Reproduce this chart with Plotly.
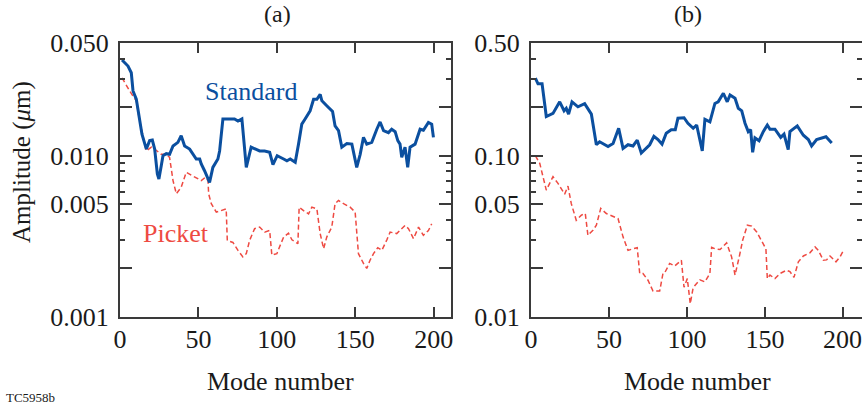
import plotly.graph_objects as go
import math

# ---------------- data ----------------
a_std_x = [1.3, 5.1, 7.2, 8.3, 10.4, 12.5, 14, 16.8, 18.9, 20.6, 22.1, 23.8, 24.8, 26.3, 27.4, 29.5, 31.6,
           33.8, 36.9, 39, 41.2, 44.4, 45.9, 48.6, 50.8, 51.8, 53.9, 57.1, 59.2, 62.4, 63.5, 65.6, 73, 75.2,
           77.7, 80.5, 83.6, 86.8, 89, 92.2, 95.4, 97.5, 100.2, 104.3, 106.4, 108.5, 111.7, 113.8, 115.9,
           118, 121.2, 123.4, 125.5, 127.6, 128.7, 131.8, 135.5, 137.1, 139.3, 141.4, 144.6, 147.8, 150.9,
           153.1, 155.2, 157.3, 160.5, 163.7, 165.8, 168, 171.1, 173.2, 175.4, 177.1, 178.5, 179.6, 181.7,
           183.4, 184.9, 188.1, 191.3, 193.4, 196.6, 198.7, 199.8]
a_std_y = [0.0392, 0.0360, 0.0327, 0.0252, 0.0224, 0.0169, 0.0136, 0.0110, 0.0124, 0.0125, 0.0110, 0.0077,
           0.00718, 0.00867, 0.0100, 0.0103, 0.0102, 0.0115, 0.0121, 0.0133, 0.0115, 0.0110, 0.0105, 0.00954,
           0.00954, 0.00889, 0.00807, 0.00684, 0.00847, 0.00954, 0.0107, 0.0169, 0.0169, 0.0164, 0.0169,
           0.00847, 0.0113, 0.0110, 0.0107, 0.0107, 0.0105, 0.0088, 0.0100, 0.00954, 0.0093, 0.00954, 0.0091,
           0.0118, 0.0157, 0.0169, 0.0190, 0.0224, 0.0224, 0.0240, 0.0219, 0.0204, 0.0188, 0.0153, 0.0143,
           0.0113, 0.0119, 0.0118, 0.00847, 0.0102, 0.0130, 0.0118, 0.0121, 0.0146, 0.0162, 0.0143, 0.0139,
           0.0146, 0.0141, 0.0124, 0.0118, 0.00977, 0.0113, 0.00847, 0.0113, 0.0118, 0.0146, 0.0144, 0.0161,
           0.0157, 0.0130]

a_pick_x = [1.3, 4, 6.2, 8.3, 10.4, 12.5, 14.6, 16.8, 20, 22.1, 26.3, 29.5, 31.6, 33.8, 35.9, 39, 42.2, 44.4,
            48.6, 51.8, 54.3, 56.1, 56.5, 58.2, 61.4, 64.5, 67.7, 68.4, 72, 75.2, 78.3, 80.5, 82.6, 85.8, 89,
            92.2, 95.4, 96.8, 100, 102.1, 104.3, 107.4, 109.6, 113.4, 114.2, 117, 120.2, 122.3, 125.5, 127.6,
            129.8, 131.8, 135, 137.1, 139.3, 142.5, 146.7, 149.9, 151, 152, 155.2, 157.3, 159.4, 161.6, 164.3,
            166.9, 170.1, 172.2, 176.4, 181.7, 183.9, 187.1, 190.3, 193.4, 196.6, 198.7]
a_pick_y = [0.0304, 0.0277, 0.0252, 0.0234, 0.0219, 0.0164, 0.0130, 0.0107, 0.0113, 0.0110, 0.0102, 0.0102,
            0.00977, 0.00701, 0.00581, 0.00637, 0.00789, 0.0077, 0.00734, 0.00701, 0.00734, 0.00701, 0.00581,
            0.00504, 0.00447, 0.00457, 0.00468, 0.00298, 0.0029, 0.00259, 0.00236, 0.00247, 0.00298, 0.00353,
            0.00361, 0.00336, 0.00344, 0.00242, 0.00247, 0.00278, 0.00313, 0.00331, 0.00301, 0.00285, 0.0048,
            0.00457, 0.00436, 0.0048, 0.00468, 0.00329, 0.00265, 0.00313, 0.00361, 0.00504, 0.00528, 0.00504,
            0.0048, 0.00447, 0.00329, 0.00247, 0.00215, 0.0020, 0.00225, 0.00247, 0.00269, 0.00259, 0.00301,
            0.00336, 0.00329, 0.0037, 0.00353, 0.00306, 0.00361, 0.00321, 0.00344, 0.00378]

b_std_x = [2.8, 4.5, 7.1, 9.8, 14.1, 18.4, 21.2, 22.6, 24.1, 26.3, 30.1, 34.4, 38.7, 41.9, 44, 49.4, 52.6,
           56.2, 59, 62.2, 65.4, 68.1, 70.7, 73.9, 76.1, 78.8, 81.4, 84, 86.7, 89.9, 92.5, 94.2, 98.1, 100.6,
           102.8, 104, 106.2, 109.8, 111.5, 114.7, 117.9, 120, 123.3, 125.8, 127.6, 130.8, 132.9, 135.1, 137.2,
           139.3, 140.8, 142.1, 143.6, 146.2, 148.9, 151.5, 153.2, 156.4, 160.1, 162.2, 164.9, 166, 170.7,
           174.6, 177.8, 179.9, 183.1, 186.3, 189.1, 192.8]
b_std_y = [0.303, 0.279, 0.279, 0.175, 0.183, 0.216, 0.19, 0.197, 0.181, 0.216, 0.201, 0.21, 0.181, 0.117,
           0.122, 0.114, 0.119, 0.148, 0.111, 0.117, 0.115, 0.125, 0.104, 0.111, 0.117, 0.132, 0.126, 0.118,
           0.138, 0.145, 0.145, 0.171, 0.172, 0.159, 0.151, 0.148, 0.155, 0.107, 0.168, 0.162, 0.211, 0.216,
           0.244, 0.216, 0.238, 0.227, 0.197, 0.19, 0.159, 0.141, 0.145, 0.105, 0.129, 0.124, 0.141, 0.155,
           0.146, 0.146, 0.13, 0.136, 0.109, 0.141, 0.153, 0.134, 0.126, 0.115, 0.126, 0.128, 0.131, 0.12]

b_pick_x = [2.8, 5.6, 7.7, 9.8, 14.1, 17.3, 21.6, 23.7, 25.8, 29, 32.3, 34.8, 36.5, 39.7, 41.9, 44.7, 48.3,
            52.6, 55.8, 59, 62.2, 65.4, 68.1, 69.7, 71.8, 75, 78.2, 82.5, 84.6, 85.7, 88.9, 92.1, 96.4, 98.1,
            100.2, 102.1, 103.8, 105.1, 108.3, 111.5, 114.7, 115.8, 117.9, 121.2, 125.4, 128.6, 130.8, 133.5,
            135.7, 138.7, 141.5, 144.7, 147.9, 150.6, 151.5, 153.2, 156.4, 159.6, 163.9, 166, 168.6, 171.4,
            174.6, 178.8, 182.1, 184.2, 187.4, 189.5, 191.7, 195.5, 198.1, 200.2]
b_pick_y = [0.1, 0.0897, 0.0741, 0.0612, 0.0741, 0.0674, 0.0578, 0.0648, 0.0506, 0.0398, 0.0428, 0.0438,
            0.0321, 0.0345, 0.0371, 0.0471, 0.0438, 0.0418, 0.0408, 0.0314, 0.0259, 0.0265, 0.0269, 0.0186,
            0.0186, 0.0169, 0.0145, 0.0145, 0.0186, 0.0188, 0.0215, 0.0207, 0.0225, 0.0153, 0.0173, 0.0121,
            0.0149, 0.0157, 0.017, 0.0165, 0.0186, 0.027, 0.0265, 0.0262, 0.0288, 0.0236, 0.0182, 0.0236,
            0.0299, 0.0371, 0.0366, 0.0337, 0.0299, 0.0265, 0.0173, 0.0182, 0.0173, 0.0186, 0.0195, 0.0191,
            0.0176, 0.022, 0.0239, 0.025, 0.0272, 0.0259, 0.0225, 0.0226, 0.0239, 0.022, 0.0236, 0.0257]

x_ticks = [0, 50, 100, 150, 200]
x_labels = ["0", "50", "100", "150", "200"]
a_major = [0.001, 0.002, 0.005, 0.01, 0.02, 0.05]
a_labels = ["0.001", "", "0.005", "0.010", "", "0.050"]
a_minor = [0.003, 0.004, 0.006, 0.007, 0.008, 0.009, 0.03, 0.04]
b_major = [0.01, 0.02, 0.05, 0.1, 0.2, 0.5]
b_labels = ["0.01", "", "0.05", "0.10", "", "0.50"]
b_minor = [0.03, 0.04, 0.06, 0.07, 0.08, 0.09, 0.3, 0.4]

# ---------------- style ----------------
W, H = 862, 406
BLUE = "#0b4f9f"
RED = "#ee4a42"
AX = "#3a3a3a"
TXT = "#1a1a1a"
FONT = "'Liberation Serif', 'Times New Roman', Times, serif"


def px(x):
    return x / W


def py(y):
    return 1 - y / H


fig = go.Figure()
fig.add_trace(go.Scatter(x=a_pick_x, y=a_pick_y, mode="lines", line=dict(color=RED, width=1.5, dash="5px,3px"),
                         xaxis="x", yaxis="y", showlegend=False))
fig.add_trace(go.Scatter(x=a_std_x, y=a_std_y, mode="lines", line=dict(color=BLUE, width=3),
                         xaxis="x", yaxis="y", showlegend=False))
fig.add_trace(go.Scatter(x=b_pick_x, y=b_pick_y, mode="lines", line=dict(color=RED, width=1.5, dash="5px,3px"),
                         xaxis="x2", yaxis="y2", showlegend=False))
fig.add_trace(go.Scatter(x=b_std_x, y=b_std_y, mode="lines", line=dict(color=BLUE, width=3),
                         xaxis="x2", yaxis="y2", showlegend=False))

ydom = [py(317), py(43)]
xcommon = dict(showline=True, linecolor=AX, linewidth=2, mirror="ticks", ticks="inside", ticklen=10,
               tickwidth=2, tickcolor=AX, tickvals=x_ticks, showgrid=False, zeroline=False, automargin=False,
               tickfont=dict(family=FONT, size=26, color=TXT), ticklabelstandoff=-2)
ycommon = dict(type="log", showline=True, linecolor=AX, linewidth=2, mirror="ticks", ticks="inside",
               ticklen=12, tickwidth=2, tickcolor=AX, showgrid=False, zeroline=False, automargin=False,
               tickfont=dict(family=FONT, size=26, color=TXT), ticklabelstandoff=4)

fig.update_layout(
    width=W, height=H, margin=dict(l=0, r=0, t=0, b=0, autoexpand=False),
    paper_bgcolor="white", plot_bgcolor="white",
    xaxis=dict(domain=[px(120), px(451)], range=[0, 211], anchor="y", ticktext=x_labels, **xcommon),
    yaxis=dict(domain=ydom, range=[-3, math.log10(0.05)], anchor="x", tickvals=a_major, ticktext=a_labels,
               minor=dict(tickvals=a_minor, ticks="inside", ticklen=5, tickwidth=2, tickcolor=AX), **ycommon),
    xaxis2=dict(domain=[px(531), 1.0], range=[0, 212.2], anchor="y2", ticktext=x_labels[:-1] + [""], **xcommon),
    yaxis2=dict(domain=ydom, range=[-2, math.log10(0.5)], anchor="x2", tickvals=b_major, ticktext=b_labels,
                minor=dict(tickvals=b_minor, ticks="inside", ticklen=5, tickwidth=2, tickcolor=AX), **ycommon),
)

ann = [
    dict(text="(a)", x=px(277), y=py(14), size=24, color=TXT),
    dict(text="(b)", x=px(688), y=py(14), size=24, color=TXT),
    dict(text="Mode number", x=px(280), y=py(381), size=26, color=TXT),
    dict(text="Mode number", x=px(697), y=py(381), size=26, color=TXT),
    dict(text="Standard", x=px(251), y=py(91), size=26, color=BLUE),
    dict(text="Picket", x=px(176), y=py(233), size=26, color=RED),
    dict(text="TC5958b", x=px(30), y=py(397), size=13, color=TXT),
]
for a in ann:
    fig.add_annotation(text=a["text"], x=a["x"], y=a["y"], xref="paper", yref="paper",
                       xanchor="center", yanchor="middle", showarrow=False,
                       font=dict(family=FONT, size=a["size"], color=a["color"]))
# last tick label of panel (b) sits at the page edge; draw it as text anchored to the axis value
fig.add_annotation(text=x_labels[-1], x=x_ticks[-1], xref="x2", y=py(339), yref="paper",
                   xanchor="center", yanchor="middle", showarrow=False,
                   font=dict(family=FONT, size=26, color=TXT))
fig.add_annotation(text="Amplitude (<i>μ</i>m)", x=px(22), y=py(162), xref="paper", yref="paper",
                   xanchor="center", yanchor="middle", showarrow=False, textangle=-90,
                   font=dict(family=FONT, size=25, color=TXT))

fig.write_html("out.html")
